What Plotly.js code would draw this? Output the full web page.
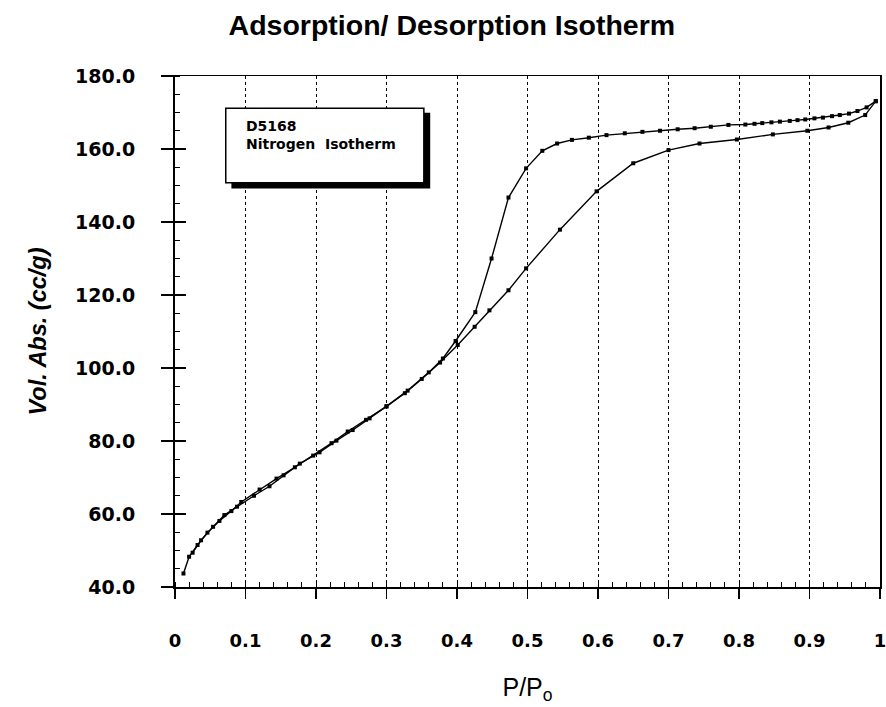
<!DOCTYPE html>
<html>
<head>
<meta charset="utf-8">
<script src="https://cdn.plot.ly/plotly-3.0.1.min.js"></script>
<style>
  html, body { margin: 0; padding: 0; background: #ffffff; }
  #chart { width: 886px; height: 707px; }
</style>
</head>
<body>
<div id="chart"></div>
<script>
// Nitrogen isotherm for sample D5168: relative pressure vs. volume adsorbed

// Adsorption branch (increasing P/Po)
const adsorptionP = [0.012, 0.020, 0.032, 0.046, 0.063, 0.080, 0.094, 0.120, 0.144, 0.170,
                     0.196, 0.222, 0.245, 0.271, 0.300, 0.326, 0.350, 0.376, 0.401, 0.425,
                     0.446, 0.473, 0.498, 0.546, 0.598, 0.650, 0.700, 0.744, 0.797, 0.848,
                     0.897, 0.927, 0.955, 0.979, 0.994];
const adsorptionV = [43.7, 48.3, 51.5, 54.9, 58.1, 60.8, 63.3, 66.7, 69.7, 72.8,
                     76.0, 79.4, 82.6, 85.8, 89.5, 93.1, 97.0, 101.5, 106.3, 111.3,
                     115.8, 121.3, 127.3, 137.9, 148.4, 156.1, 159.7, 161.5, 162.6, 164.0,
                     165.0, 165.9, 167.2, 169.3, 173.1];

// Desorption branch (decreasing P/Po)
const desorptionP = [0.994, 0.981, 0.968, 0.956, 0.943, 0.932, 0.919, 0.907, 0.894, 0.883,
                     0.872, 0.858, 0.846, 0.833, 0.822, 0.809, 0.785, 0.760, 0.737, 0.713,
                     0.688, 0.663, 0.638, 0.612, 0.587, 0.563, 0.542, 0.521, 0.498, 0.473,
                     0.449, 0.426, 0.398, 0.380, 0.360, 0.330, 0.300, 0.276, 0.252, 0.229,
                     0.205, 0.177, 0.154, 0.134, 0.112, 0.088, 0.070, 0.054, 0.037, 0.025];
const desorptionV = [173.1, 171.4, 170.4, 169.7, 169.3, 169.0, 168.6, 168.4, 168.1, 167.9,
                     167.7, 167.5, 167.3, 167.1, 166.9, 166.7, 166.6, 166.1, 165.7, 165.4,
                     165.0, 164.7, 164.3, 163.8, 163.1, 162.5, 161.5, 159.5, 154.7, 146.7,
                     130.0, 115.3, 107.4, 102.6, 98.8, 93.8, 89.5, 86.2, 83.0, 80.1,
                     76.9, 73.8, 70.6, 67.6, 65.0, 62.0, 59.7, 56.5, 52.8, 49.4];

// Axis ticks
const xTickVals = [0, 0.1, 0.2, 0.3, 0.4, 0.5, 0.6, 0.7, 0.8, 0.9, 1];
const xTickText = ['0', '0.1', '0.2', '0.3', '0.4', '0.5', '0.6', '0.7', '0.8', '0.9', '1'];
const yTickVals = [40, 60, 80, 100, 120, 140, 160, 180];
const yTickText = ['40.0', '60.0', '80.0', '100.0', '120.0', '140.0', '160.0', '180.0'];

const sampleLines = ['D5168', 'Nitrogen\u00a0 Isotherm'];

const ink = '#000000';

const seriesStyle = {
  mode: 'lines+markers',
  line: { color: ink, width: 1.4 },
  marker: { symbol: 'square', size: 4, color: ink },
  hoverinfo: 'skip',
  showlegend: false
};

const traces = [
  Object.assign({ x: adsorptionP, y: adsorptionV, name: 'Adsorption' }, seriesStyle),
  Object.assign({ x: desorptionP, y: desorptionV, name: 'Desorption' }, seriesStyle),
  // carrier for the overlay axis that draws the inner half of the major value ticks
  { x: [0.5], y: [100], xaxis: 'x', yaxis: 'y2', mode: 'markers',
    marker: { size: 1, opacity: 0 }, hoverinfo: 'skip', showlegend: false }
];

const layout = {
  width: 886,
  height: 707,
  margin: { l: 175, r: 6, t: 76, b: 120, pad: 0 },
  paper_bgcolor: '#ffffff',
  plot_bgcolor: '#ffffff',
  showlegend: false,
  title: {
    text: '<b>Adsorption/ Desorption Isotherm</b>',
    font: { family: 'Liberation Sans', size: 28.5, color: ink },
    x: 0.51, xref: 'container', xanchor: 'center',
    y: 0.965, yref: 'container', yanchor: 'middle'
  },
  xaxis: {
    range: [0, 1],
    tickmode: 'array', tickvals: xTickVals, ticktext: xTickText,
    tickfont: { family: 'DejaVu Sans', size: 18, color: ink, weight: 'bold' },
    ticks: 'outside', ticklen: 10, tickwidth: 1.5, tickcolor: ink,
    ticklabelstandoff: 27,
    ticklabeloverflow: 'allow',
    showline: true, linecolor: ink, linewidth: 1.5, mirror: true,
    showgrid: true, gridcolor: ink, gridwidth: 1, griddash: 'dot',
    zeroline: false,
    minor: { dtick: 0.02, ticks: 'inside', ticklen: 5, tickcolor: ink, tickwidth: 1, showgrid: false },
    title: {
      text: 'P/P<sub>o</sub>',
      font: { family: 'Liberation Sans', size: 25, color: ink },
      standoff: 28
    },
    fixedrange: true
  },
  yaxis: {
    range: [40, 180],
    tickmode: 'array', tickvals: yTickVals, ticktext: yTickText,
    tickfont: { family: 'DejaVu Sans', size: 19, color: ink, weight: 'bold' },
    ticks: 'outside', ticklen: 12, tickwidth: 1.5, tickcolor: ink,
    ticklabelstandoff: 22,
    ticklabeloverflow: 'allow',
    showline: true, linecolor: ink, linewidth: 2, mirror: true,
    showgrid: false, zeroline: false,
    minor: { dtick: 5, ticks: 'inside', ticklen: 5, tickcolor: ink, tickwidth: 1, showgrid: false },
    title: {
      text: '<b><i>Vol. Abs. (cc/g)</i></b>',
      font: { family: 'Liberation Sans', size: 23.5, color: ink },
      standoff: 22
    },
    fixedrange: true
  },
  yaxis2: {
    overlaying: 'y', side: 'left', anchor: 'x',
    range: [40, 180],
    tickmode: 'array', tickvals: yTickVals, showticklabels: false,
    ticks: 'inside', ticklen: 11, tickwidth: 1.5, tickcolor: ink,
    showline: false, showgrid: false, zeroline: false, fixedrange: true
  },
  shapes: [
    // drop shadow of the sample box
    { type: 'rect', xref: 'paper', yref: 'paper', x0: 0.080, x1: 0.362, y0: 0.780, y1: 0.928,
      fillcolor: ink, line: { width: 0 }, layer: 'above' },
    // sample box
    { type: 'rect', xref: 'paper', yref: 'paper', x0: 0.072, x1: 0.353, y0: 0.791, y1: 0.937,
      fillcolor: '#ffffff', line: { color: ink, width: 1.5 }, layer: 'above' }
  ],
  annotations: [
    { xref: 'paper', yref: 'paper', x: 0.098, y: 0.921, xanchor: 'left', yanchor: 'top',
      align: 'left', showarrow: false,
      text: '<b>' + sampleLines.join('<br>') + '</b>',
      font: { family: 'DejaVu Sans', size: 14, color: ink } }
  ]
};

Plotly.newPlot('chart', traces, layout, { displayModeBar: false, staticPlot: true });
</script>
</body>
</html>
